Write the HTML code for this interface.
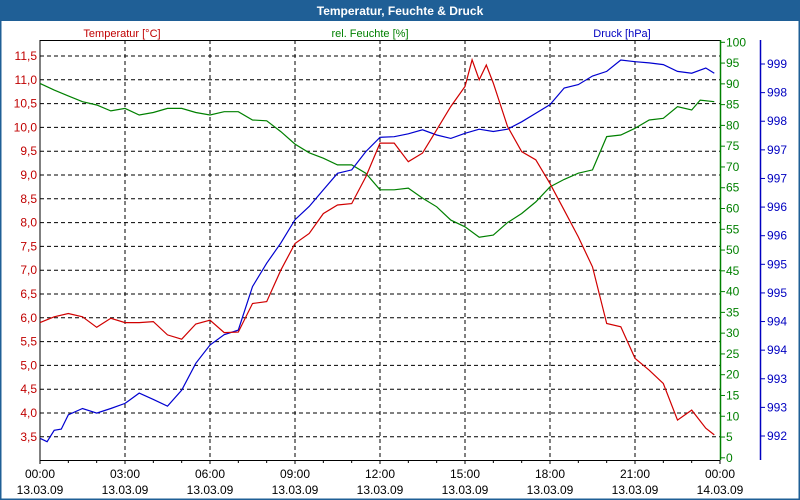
<!DOCTYPE html>
<html><head><meta charset="utf-8"><style>
html,body{margin:0;padding:0;background:#fff;}
svg{display:block;font-family:"Liberation Sans",sans-serif;}
</style></head><body>
<svg id="chart" width="800" height="500" viewBox="0 0 800 500" xmlns="http://www.w3.org/2000/svg">
<rect x="0" y="0" width="800" height="500" fill="#ffffff" stroke="#1f5f96" stroke-width="3"/>
<rect x="0" y="0" width="800" height="21" fill="#1f5f96"/>
<text x="400" y="15" text-anchor="middle" fill="#fff" font-size="12" font-weight="bold">Temperatur, Feuchte &amp; Druck</text>
<text x="122" y="37" text-anchor="middle" fill="#c00000" font-size="11">Temperatur [°C]</text>
<text x="370" y="37" text-anchor="middle" fill="#008000" font-size="11">rel. Feuchte [%]</text>
<text x="622" y="37" text-anchor="middle" fill="#0000c0" font-size="11">Druck [hPa]</text>
<g id="grid"></g>
<g id="axes"></g>
<g id="series"></g>
</svg>
<script>
const tempTicks=[3.5,4,4.5,5,5.5,6,6.5,7,7.5,8,8.5,9,9.5,10,10.5,11,11.5];
const humTicks=[5,10,15,20,25,30,35,40,45,50,55,60,65,70,75,80,85,90,95,100];
const presTicks=[992,992.5,993,993.5,994,994.5,995,995.5,996,996.5,997,997.5,998,998.5];
const timeTicks=[0,3,6,9,12,15,18,21,24];
const timeLabels=["00:00","03:00","06:00","09:00","12:00","15:00","18:00","21:00","00:00"];
const dateLabels=["13.03.09","13.03.09","13.03.09","13.03.09","13.03.09","13.03.09","13.03.09","13.03.09","14.03.09"];

const tempTimes=[0,0.5,1,1.5,2,2.5,3,3.5,4,4.5,5,5.5,6,6.5,7,7.5,8,8.5,9,9.5,10,10.5,11,11.5,12,12.5,13,13.5,14,14.5,15,15.25,15.5,15.75,16,16.5,17,17.5,18,18.5,19,19.5,20,20.5,21,21.5,22,22.5,23,23.5,23.8];
const tempValues=[5.90,6.02,6.09,6.02,5.80,5.99,5.90,5.90,5.92,5.64,5.55,5.87,5.95,5.69,5.70,6.30,6.34,7.00,7.56,7.77,8.19,8.37,8.40,8.96,9.67,9.67,9.28,9.46,9.95,10.44,10.86,11.42,11.00,11.31,10.93,10.02,9.49,9.32,8.82,8.26,7.70,7.07,5.88,5.81,5.15,4.90,4.62,3.85,4.06,3.68,3.54];

const humTimes=[0,0.5,1,1.5,2,2.5,3,3.5,4,4.5,5,5.5,6,6.5,7,7.5,8,8.5,9,9.5,10,10.5,11,11.5,12,12.5,13,13.5,14,14.5,15,15.5,16,16.5,17,17.5,18,18.5,19,19.5,20,20.5,21,21.5,22,22.5,23,23.3,23.8];
const humValues=[90.1,88.5,87.1,85.7,84.9,83.5,84.1,82.5,83.1,84.1,84.1,83.1,82.5,83.3,83.3,81.3,81.1,78.5,75.5,73.4,72.1,70.5,70.5,68.5,64.5,64.5,64.9,62.5,60.4,57.2,55.6,53.1,53.6,56.6,58.8,61.6,65.2,67.0,68.5,69.3,77.3,77.7,79.3,81.3,81.7,84.5,83.7,86.1,85.7];

const presTimes=[0,0.25,0.5,0.75,1,1.5,2,2.5,3,3.5,4,4.5,5,5.5,6,6.5,7,7.5,8,8.5,9,9.5,10,10.5,11,11.5,12,12.5,13,13.5,14,14.5,15,15.5,16,16.5,17,17.5,18,18.5,19,19.5,20,20.5,21,21.5,22,22.5,23,23.5,23.8];
const presValues=[991.96,991.90,992.10,992.12,992.37,992.48,992.40,992.48,992.57,992.75,992.64,992.52,992.80,993.27,993.59,993.77,993.85,994.61,995.02,995.37,995.78,996.01,996.30,996.59,996.65,996.97,997.22,997.23,997.28,997.35,997.26,997.20,997.29,997.36,997.32,997.36,997.49,997.64,997.79,998.08,998.14,998.29,998.37,998.57,998.54,998.52,998.49,998.37,998.34,998.43,998.34];

const L=40,R=720,T=40,B=460;
const xs=t=>L+t*(R-L)/24;
const yT=v=>56+(11.5-v)*47.6;
const yH=v=>457.8-v*4.155;
const yP=v=>436-(v-992)*57.23;
const NS="http://www.w3.org/2000/svg";
function mk(parent,tag,attrs){const e=document.createElementNS(NS,tag);for(const k in attrs)e.setAttribute(k,attrs[k]);parent.appendChild(e);return e;}
const grid=document.getElementById('grid'),axes=document.getElementById('axes'),series=document.getElementById('series');

tempTicks.forEach(v=>{
  const g=mk(grid,'line',{x1:L,x2:R,y1:yT(v),y2:yT(v),stroke:'#000','stroke-dasharray':'4,3','stroke-width':1});
  
  
  const t=mk(axes,'text',{x:37,y:yT(v)+4,'text-anchor':'end',fill:'#c00000','font-size':12});
  t.textContent=v.toFixed(1).replace('.',',');
  
  
});
timeTicks.slice(1,-1).forEach(h=>{
  const g=mk(grid,'line',{x1:xs(h),x2:xs(h),y1:T,y2:B,stroke:'#000','stroke-dasharray':'4,3','stroke-width':1});
  
  
});
for(let h=0;h<=24;h++){
  const tk=mk(axes,'line',{x1:xs(h),x2:xs(h),y1:B,y2:B+(h%3===0?4:3),stroke:'#000'});
  
  
}
timeTicks.forEach((h,i)=>{
  const a=mk(axes,'text',{x:xs(h),y:478,'text-anchor':'middle',fill:'#000','font-size':12});
  a.textContent=timeLabels[i];
  
  
  const b=mk(axes,'text',{x:xs(h),y:494,'text-anchor':'middle',fill:'#000','font-size':12});
  b.textContent=dateLabels[i];
  
  
});
const a1=mk(axes,'line',{x1:L,x2:L,y1:T,y2:B,stroke:'#000'});


const a2=mk(axes,'line',{x1:L,x2:R,y1:B+0.5,y2:B+0.5,stroke:'#000'});


const a3=mk(axes,'line',{x1:L,x2:R,y1:T+0.5,y2:T+0.5,stroke:'#000'});


const a4=mk(axes,'line',{x1:R+0.5,x2:R+0.5,y1:T,y2:B,stroke:'#008000','stroke-width':1.5});


const a5=mk(axes,'line',{x1:760.5,x2:760.5,y1:T,y2:B,stroke:'#0000c0','stroke-width':1.5});


humTicks.concat([0]).forEach(v=>{
  const tk=mk(axes,'line',{x1:R,x2:R+5,y1:yH(v),y2:yH(v),stroke:'#008000'});
  
  
  const t=mk(axes,'text',{x:R+6,y:yH(v)+4,fill:'#008000','font-size':12});
  t.textContent=String(v);
  
  
});
presTicks.forEach(v=>{
  const tk=mk(axes,'line',{x1:760,x2:765,y1:yP(v),y2:yP(v),stroke:'#0000c0'});
  
  
  const t=mk(axes,'text',{x:767,y:yP(v)+4,fill:'#0000c0','font-size':12});
  t.textContent=String(Math.round(v));
  
  
});
function line(times,vals,yf,color,name){
  const p=times.map((t,i)=>xs(t).toFixed(1)+','+yf(vals[i]).toFixed(1)).join(' ');
  const e=mk(series,'polyline',{points:p,fill:'none',stroke:color,'stroke-width':1.2});
  
  
}
line(humTimes,humValues,yH,'#008000','humidity-line');
line(presTimes,presValues,yP,'#0000d0','pressure-line');
line(tempTimes,tempValues,yT,'#d00000','temperature-line');
</script>
</body></html>
